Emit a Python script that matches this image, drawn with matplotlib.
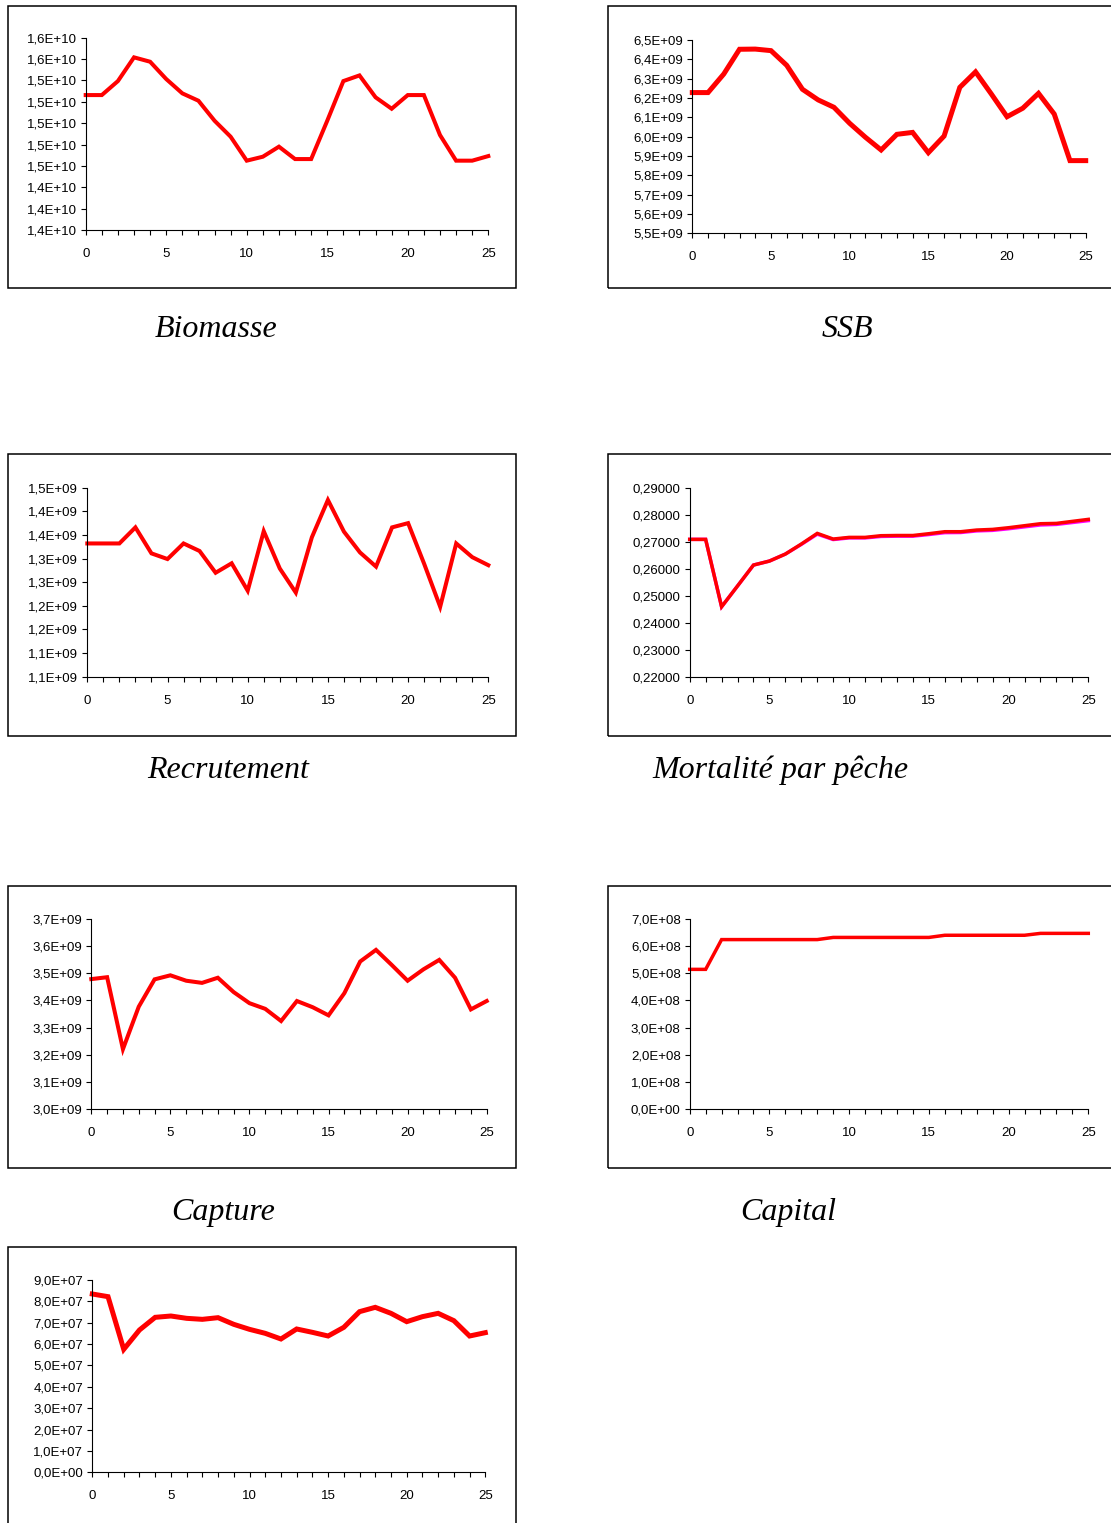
import matplotlib
matplotlib.use("Agg")
from matplotlib import pyplot as plt
from matplotlib.patches import Rectangle

# Figure size in pixels
W, H = 1111, 1523
DPI = 100

years = list(range(26))

# values
biomasse = [1.5263, 1.5263, 1.5394, 1.5616, 1.5575, 1.5413, 1.5279, 1.5210, 1.5023, 1.4873,
            1.4649, 1.4686, 1.4780, 1.4664, 1.4664, 1.5023, 1.5394, 1.5447, 1.5242, 1.5135,
            1.5263, 1.5263, 1.4889, 1.4649, 1.4649, 1.4692]  # E+10
ssb = [6.228, 6.228, 6.324, 6.452, 6.453, 6.445, 6.369, 6.245, 6.190, 6.152,
       6.069, 5.997, 5.931, 6.012, 6.022, 5.917, 6.003, 6.255, 6.335, 6.221,
       6.103, 6.147, 6.224, 6.117, 5.876, 5.876]  # E+09
recrutement = [1.382, 1.382, 1.382, 1.416, 1.361, 1.349, 1.382, 1.366, 1.320, 1.340,
               1.282, 1.408, 1.329, 1.278, 1.395, 1.474, 1.407, 1.363, 1.333, 1.416,
               1.425, 1.339, 1.248, 1.382, 1.353, 1.336]  # E+09
mortalite = [0.27086, 0.27086, 0.24590, 0.25360, 0.26135, 0.26283, 0.26542, 0.26913, 0.27308, 0.27098,
             0.27160, 0.27160, 0.27222, 0.27230, 0.27230, 0.27296, 0.27370, 0.27370, 0.27432, 0.27456,
             0.27518, 0.27592, 0.27666, 0.27678, 0.27753, 0.27827]
mortalite_2 = [0.27086, 0.27086, 0.24590, 0.25360, 0.26135, 0.26283, 0.26542, 0.26900, 0.27280, 0.27080,
               0.27140, 0.27140, 0.27195, 0.27205, 0.27205, 0.27265, 0.27335, 0.27340, 0.27400, 0.27420,
               0.27480, 0.27550, 0.27620, 0.27640, 0.27710, 0.27780]
capture = [3.479, 3.486, 3.220, 3.377, 3.478, 3.493, 3.473, 3.465, 3.484, 3.431,
           3.390, 3.369, 3.324, 3.398, 3.375, 3.345, 3.427, 3.544, 3.587, 3.531,
           3.473, 3.515, 3.550, 3.484, 3.367, 3.398]  # E+09
capital = [5.15, 5.15, 6.25, 6.25, 6.25, 6.25, 6.25, 6.25, 6.25, 6.33,
           6.33, 6.33, 6.33, 6.33, 6.33, 6.33, 6.41, 6.41, 6.41, 6.41,
           6.41, 6.41, 6.48, 6.48, 6.48, 6.48]  # E+08
dernier = [8.345, 8.22, 5.755, 6.66, 7.253, 7.315, 7.206, 7.159, 7.237, 6.925,
           6.691, 6.504, 6.239, 6.707, 6.551, 6.379, 6.785, 7.518, 7.721, 7.44,
           7.05, 7.284, 7.44, 7.097, 6.379, 6.535]  # E+07

# y ticks and their labels as printed
bio_ticks = [1.40, 1.42, 1.44, 1.46, 1.48, 1.50, 1.52, 1.54, 1.56, 1.58]
bio_labels = ["1,4E+10", "1,4E+10", "1,4E+10", "1,5E+10", "1,5E+10",
              "1,5E+10", "1,5E+10", "1,5E+10", "1,6E+10", "1,6E+10"]
ssb_ticks = [5.5, 5.6, 5.7, 5.8, 5.9, 6.0, 6.1, 6.2, 6.3, 6.4, 6.5]
ssb_labels = ["5,5E+09", "5,6E+09", "5,7E+09", "5,8E+09", "5,9E+09", "6,0E+09",
              "6,1E+09", "6,2E+09", "6,3E+09", "6,4E+09", "6,5E+09"]
rec_ticks = [1.10, 1.15, 1.20, 1.25, 1.30, 1.35, 1.40, 1.45, 1.50]
rec_labels = ["1,1E+09", "1,1E+09", "1,2E+09", "1,2E+09", "1,3E+09",
              "1,3E+09", "1,4E+09", "1,4E+09", "1,5E+09"]
mort_ticks = [0.22, 0.23, 0.24, 0.25, 0.26, 0.27, 0.28, 0.29]
mort_labels = ["0,22000", "0,23000", "0,24000", "0,25000",
               "0,26000", "0,27000", "0,28000", "0,29000"]
cap_ticks = [3.0, 3.1, 3.2, 3.3, 3.4, 3.5, 3.6, 3.7]
cap_labels = ["3,0E+09", "3,1E+09", "3,2E+09", "3,3E+09",
              "3,4E+09", "3,5E+09", "3,6E+09", "3,7E+09"]
kap_ticks = [0, 1, 2, 3, 4, 5, 6, 7]
kap_labels = ["0,0E+00", "1,0E+08", "2,0E+08", "3,0E+08",
              "4,0E+08", "5,0E+08", "6,0E+08", "7,0E+08"]
der_ticks = [0, 1, 2, 3, 4, 5, 6, 7, 8, 9]
der_labels = ["0,0E+00", "1,0E+07", "2,0E+07", "3,0E+07", "4,0E+07",
              "5,0E+07", "6,0E+07", "7,0E+07", "8,0E+07", "9,0E+07"]

titles = ["Biomasse", "SSB", "Recrutement", "Mortalité par pêche", "Capture", "Capital"]

plt.rcParams["font.family"] = ["Liberation Sans", "DejaVu Sans"]

fig = plt.figure(figsize=(W / DPI, H / DPI), dpi=DPI)


def px_rect(left, top, right, bottom):
    return [left / W, 1 - bottom / H, (right - left) / W, (bottom - top) / H]


def frame(left, top, right, bottom):
    fig.patches.append(Rectangle((left / W, 1 - bottom / H), (right - left) / W, (bottom - top) / H,
                                 transform=fig.transFigure, fill=False, edgecolor="black",
                                 linewidth=1.1))


def panel(box, series, ticks, labels, lw, extra=None):
    ax = fig.add_axes(px_rect(*box))
    if extra is not None:
        ax.plot(years, extra, color="#FF00FF", lw=lw, clip_on=False, solid_joinstyle="miter")
    ax.plot(years, series, color="#FF0000", lw=lw, clip_on=False, solid_joinstyle="miter")
    ax.set_xlim(0, 25)
    ax.set_ylim(ticks[0], ticks[-1])
    ax.set_yticks(ticks)
    ax.set_yticklabels(labels)
    ax.set_xticks(years)
    ax.set_xticklabels([str(y) if y % 5 == 0 else "" for y in years])
    for s in ["top", "right"]:
        ax.spines[s].set_visible(False)
    for s in ["left", "bottom"]:
        ax.spines[s].set_linewidth(0.8)
    ax.tick_params(axis="y", direction="out", length=3.5, width=0.8, pad=3, labelsize=9.5)
    ax.tick_params(axis="x", direction="out", length=3.5, width=0.8, pad=9.5, labelsize=9.5)
    ax.patch.set_alpha(0)
    return ax


# frames
frame(8, 6, 516, 288)
frame(608, 6, 1125, 288)
frame(8, 454, 516, 736)
frame(608, 454, 1125, 736)
frame(8, 886, 516, 1168)
frame(608, 886, 1125, 1168)
frame(8, 1247, 516, 1535)

panel((85.7, 37.7, 488.3, 230), biomasse, bio_ticks, bio_labels, 2.9)
panel((692.3, 40, 1085.7, 233.3), ssb, ssb_ticks, ssb_labels, 3.6)
panel((87.3, 487.7, 488.3, 676.7), recrutement, rec_ticks, rec_labels, 2.9)
panel((689.7, 487.7, 1088.3, 676.7), mortalite, mort_ticks, mort_labels, 2.5, extra=mortalite_2)
panel((91.3, 919.3, 486.7, 1108.7), capture, cap_ticks, cap_labels, 2.9)
panel((689.7, 919.3, 1088.3, 1108.7), capital, kap_ticks, kap_labels, 2.5)
panel((92.3, 1280, 485.3, 1472.3), dernier, der_ticks, der_labels, 3.6)

# titles under the panels
title_pos = [(216, 337), (847, 337), (228, 778), (780, 778), (223, 1220), (788, 1220)]
for t, (x, y) in zip(titles, title_pos):
    fig.text(x / W, 1 - y / H, t, ha="center", va="baseline", fontsize=23,
             family=["Liberation Serif", "DejaVu Serif"], style="italic")

fig.savefig("out.png", dpi=DPI)
